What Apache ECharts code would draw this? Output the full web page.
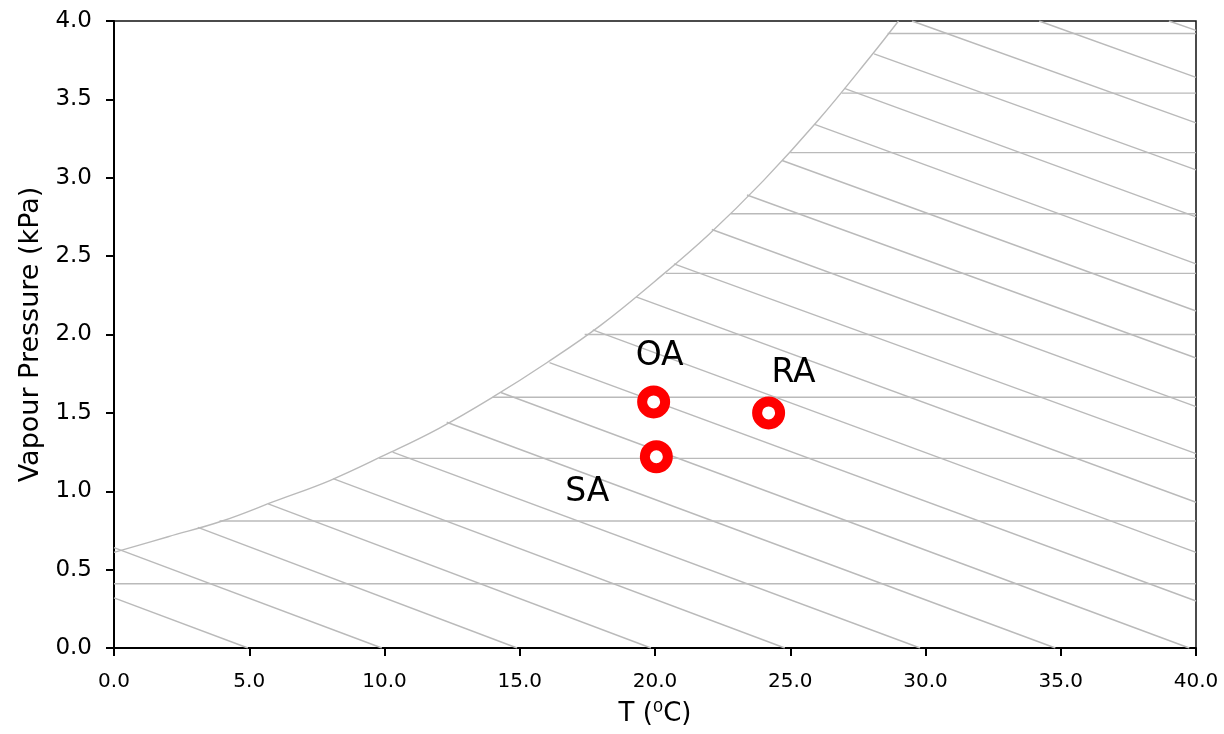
<!DOCTYPE html>
<html>
<head>
<meta charset="utf-8">
<title>Vapour pressure chart</title>
<script src="https://cdn.jsdelivr.net/npm/echarts@6/dist/echarts.min.js"></script>
<style>
  html, body { margin: 0; padding: 0; background: #fff; }
  #main { width: 1224px; height: 734px; }
</style>
</head>
<body>
<div id="main"></div>
<script>
// saturation curve (T in degC, p in kPa)
var satT = [0, 2, 4, 6, 8, 10, 12, 14, 16, 18, 20, 22, 24, 26, 28, 29];
var satP = [0.61, 0.71, 0.81, 0.94, 1.07, 1.23, 1.40, 1.60, 1.82, 2.06, 2.34, 2.64, 2.98, 3.36, 3.78, 4.0];

// horizontal lines: level and where they leave the curve
var levelP = [0.41, 0.81, 1.21, 1.60, 2.00, 2.39, 2.77, 3.16, 3.54, 3.92];
var levelStartT = [0, 3.9, 9.8, 14.0, 17.4, 20.4, 22.8, 25.0, 26.9, 28.6];

// sloping lines: start and end points
var slopeStartT = [0, 0, 3.1, 5.7, 8.1, 10.3, 12.3, 14.3, 16.1, 17.7, 19.3, 20.7, 22.1, 23.4, 24.7, 25.9, 27.0, 28.1, 29.5, 34.2, 39.0];
var slopeStartP = [0.32, 0.64, 0.77, 0.92, 1.08, 1.25, 1.44, 1.63, 1.82, 2.03, 2.24, 2.45, 2.67, 2.89, 3.11, 3.34, 3.57, 3.79, 4.0, 4.0, 4.0];
var slopeEndT = [4.95, 9.9, 14.9, 19.85, 24.8, 29.8, 34.8, 39.75, 40, 40, 40, 40, 40, 40, 40, 40, 40, 40, 40, 40, 40];
var slopeEndP = [0, 0, 0, 0, 0, 0, 0, 0, 0.30, 0.61, 0.93, 1.24, 1.54, 1.85, 2.15, 2.45, 2.75, 3.05, 3.35, 3.64, 3.94];

// air states
var pointNames = ['OA', 'SA', 'RA'];
var pointT = [19.95, 20.05, 24.2];
var pointP = [1.57, 1.22, 1.50];

var chart = echarts.init(document.getElementById('main'));
var font = 'DejaVu Sans, sans-serif';
var grey = '#bababa';

var series = [];
var satData = [];
for (var i = 0; i < satT.length; i++) satData.push([satT[i], satP[i]]);
series.push({
  type: 'line', data: satData, smooth: 0.4, symbol: 'none', silent: true,
  lineStyle: { color: grey, width: 1.4 }
});
for (var i = 0; i < levelP.length; i++) {
  series.push({
    type: 'line', symbol: 'none', silent: true,
    data: [[levelStartT[i], levelP[i]], [40, levelP[i]]],
    lineStyle: { color: grey, width: 1.4 }
  });
}
for (var i = 0; i < slopeStartT.length; i++) {
  series.push({
    type: 'line', symbol: 'none', silent: true,
    data: [[slopeStartT[i], slopeStartP[i]], [slopeEndT[i], slopeEndP[i]]],
    lineStyle: { color: grey, width: 1.4 }
  });
}

// label offsets per point (px)
var labelOffsets = { OA: [6, -45], SA: [-69, 36], RA: [25, -39] };
var pts = [];
for (var i = 0; i < pointNames.length; i++) {
  pts.push({
    name: pointNames[i],
    value: [pointT[i], pointP[i]],
    label: { offset: labelOffsets[pointNames[i]] }
  });
}
series.push({
  type: 'scatter', data: pts, symbol: 'circle', symbolSize: 23, z: 10,
  itemStyle: { color: '#fff', borderColor: '#ff0000', borderWidth: 10, opacity: 1 },
  label: {
    show: true, position: 'inside', formatter: '{b}',
    fontFamily: font, fontSize: 33, color: '#000'
  }
});

var option = {
  animation: false,
  backgroundColor: '#fff',
  grid: {
    left: 114, right: 28, top: 21, bottom: 86,
    show: true, borderColor: '#111', borderWidth: 1.5
  },
  xAxis: {
    type: 'value', min: 0, max: 40, interval: 5,
    name: 'T (\u2070C)', nameLocation: 'middle', nameGap: 53,
    nameTextStyle: { fontFamily: font, fontSize: 26, color: '#000' },
    axisLine: { show: true, onZero: false, lineStyle: { color: '#000', width: 2 } },
    axisTick: { show: true, length: 8, lineStyle: { color: '#000', width: 2 } },
    axisLabel: { fontFamily: font, fontSize: 20, color: '#000', margin: 24,
      formatter: function (v) { return v.toFixed(1); } },
    splitLine: { show: false }
  },
  yAxis: {
    type: 'value', min: 0, max: 4, interval: 0.5,
    name: 'Vapour Pressure (kPa)', nameLocation: 'middle', nameGap: 68,
    nameTextStyle: { fontFamily: font, fontSize: 27, color: '#000' },
    axisLine: { show: true, onZero: false, lineStyle: { color: '#000', width: 2 } },
    axisTick: { show: true, length: 8, lineStyle: { color: '#000', width: 2 } },
    axisLabel: { fontFamily: font, fontSize: 23, color: '#000', margin: 22,
      formatter: function (v) { return v.toFixed(1); } },
    splitLine: { show: false }
  },
  series: series
};
chart.setOption(option);
</script>
</body>
</html>
